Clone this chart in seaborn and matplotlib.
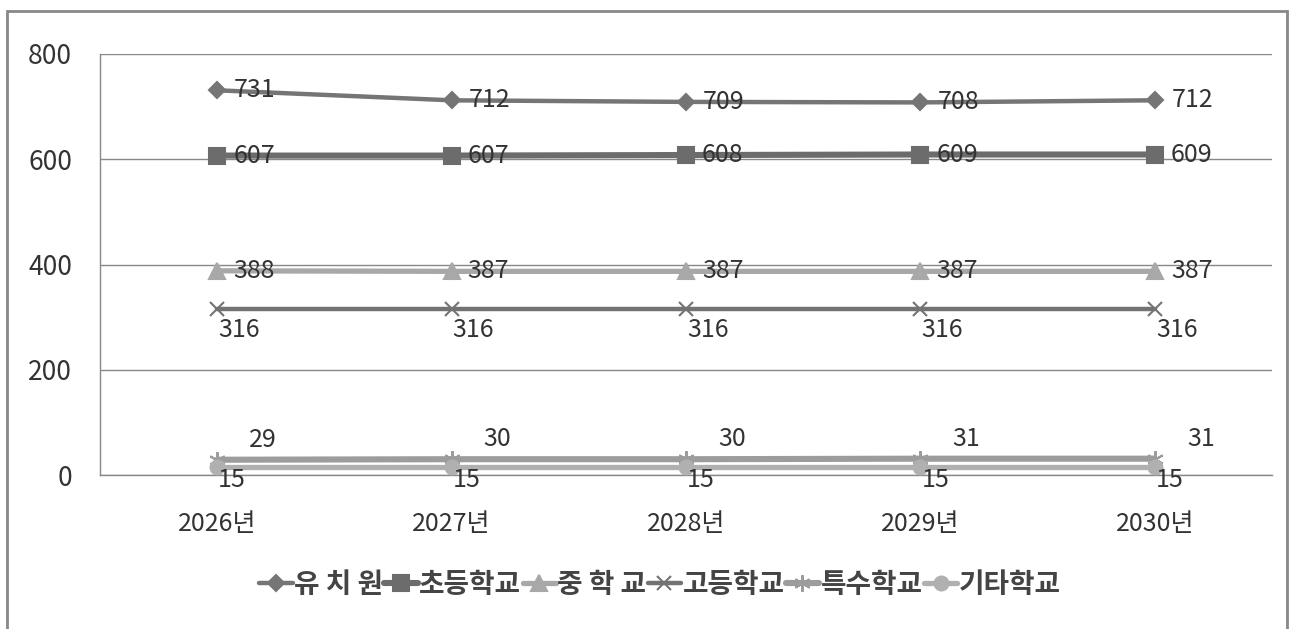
import numpy as np
import pandas as pd
import seaborn as sns
import matplotlib.pyplot as plt
from matplotlib.patches import Rectangle

years = ['2026년', '2027년', '2028년', '2029년', '2030년']
schools = ['유 치 원', '초등학교', '중 학 교', '고등학교', '특수학교', '기타학교']
kinder = [731, 712, 709, 708, 712]
elementary = [607, 607, 608, 609, 609]
middle = [388, 387, 387, 387, 387]
high = [316, 316, 316, 316, 316]
special = [29, 30, 30, 31, 31]
other = [15, 15, 15, 15, 15]

values = [kinder, elementary, middle, high, special, other]
colors = ['#757575', '#6c6c6c', '#a8a8a8', '#737373', '#9c9c9c', '#b0b0b0']
markers = ['D', 's', '^', 'x', (6, 2, 0), 'o']
msizes = [8, 11, 11, 10, 12, 10]
lwidths = [3.2, 4.4, 3.8, 3.2, 4.4, 3.8]
# label offsets in pixels (dx, dy), alignment
offsets = [(17, 0, 'left', 'center'), (16, 0, 'left', 'center'), (16, 0, 'left', 'center'),
           (1, -21, 'left', 'center'), (32, 20, 'left', 'center'), (1, -13, 'left', 'center')]

sns.set_style('white')
plt.rcParams['font.family'] = ['Liberation Sans Narrow', 'Noto Sans CJK KR', 'DejaVu Sans']

fig = plt.figure(figsize=(12.89, 6.29), dpi=100)
ax = fig.add_axes([100 / 1289, 154 / 629, 1172 / 1289, 421 / 629])

xpos = np.arange(len(years))
for i, name in enumerate(schools):
    sns.lineplot(x=xpos, y=values[i], color=colors[i], marker=markers[i], markersize=msizes[i],
                 markeredgecolor=colors[i], markeredgewidth=1.5, linewidth=lwidths[i],
                 label=name, ax=ax, zorder=3 + i)
    dx, dy, ha, va = offsets[i]
    for x, v in zip(xpos, values[i]):
        ax.annotate(str(v), (x, v), xytext=(dx, dy), textcoords='offset pixels',
                    ha=ha, va=va, fontsize=18, color='#333333', zorder=10)

ax.set_xlim(-0.5, len(years) - 0.5)
ax.set_ylim(0, 800)
ax.set_yticks([0, 200, 400, 600, 800])
ax.set_xticks(xpos)
ax.set_xticklabels(years)
ax.set_xticks(np.arange(-0.5, len(years)), minor=True)
ax.tick_params(axis='x', which='major', length=0, pad=26, labelsize=18, colors='#333333')
ax.tick_params(axis='x', which='minor', length=6, width=1, color='#888888', direction='out')
ax.tick_params(axis='y', length=6, width=1, color='#888888', direction='out', pad=14,
               labelsize=19, labelcolor='#333333')
ax.yaxis.grid(True, color='#888888', linewidth=1)
ax.set_axisbelow(True)
for s in ['top', 'right']:
    ax.spines[s].set_visible(False)
for s in ['left', 'bottom']:
    ax.spines[s].set_color('#888888')
    ax.spines[s].set_linewidth(1)
ax.set_xlabel('')
ax.set_ylabel('')

handles, labels = ax.get_legend_handles_labels()
ax.get_legend().remove()
fig.legend(handles, labels, loc='center', bbox_to_anchor=(660 / 1289, 44 / 629), ncol=6,
           frameon=False, handlelength=1.2, handletextpad=0.05, columnspacing=0.05,
           prop={'family': ['Noto Sans CJK KR'], 'size': 20, 'weight': 'bold'},
           labelcolor='#444444')

fig.patches.append(Rectangle((7 / 1289, -0.01), 1280 / 1289, 1.01 - 11 / 629, transform=fig.transFigure,
                             fill=False, edgecolor='#888888', linewidth=2))

fig.savefig('out.png', dpi=100)
